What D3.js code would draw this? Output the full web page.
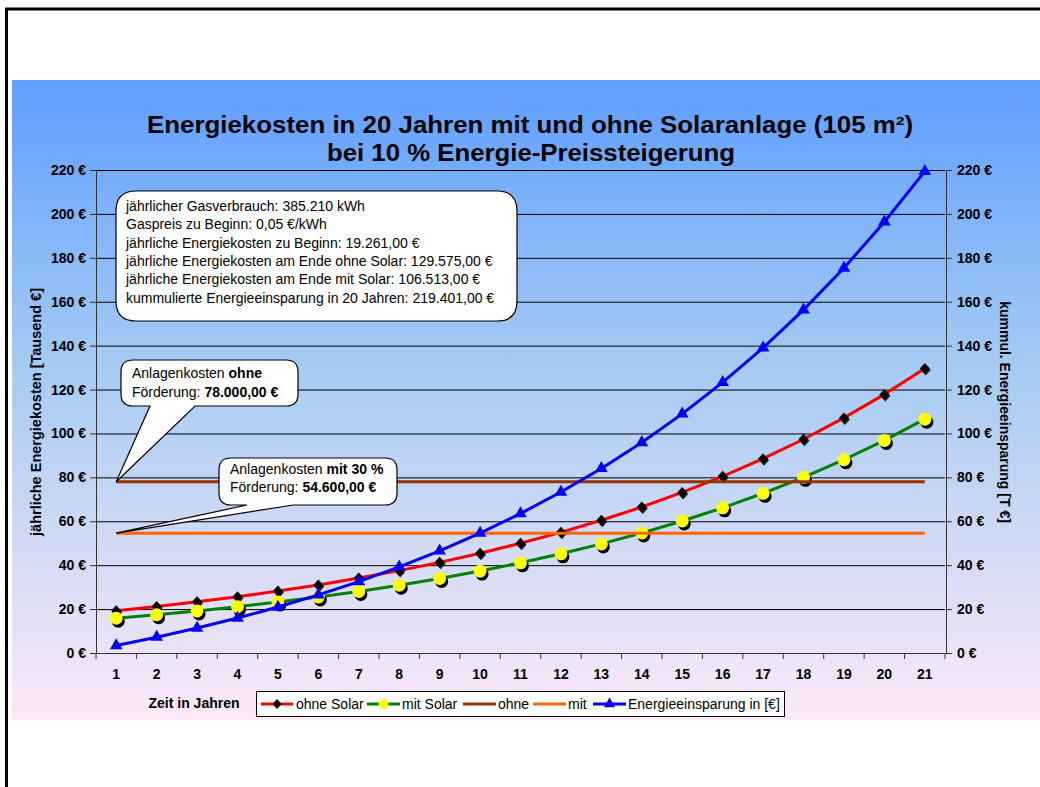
<!DOCTYPE html>
<html>
<head>
<meta charset="utf-8">
<script src="https://cdn.jsdelivr.net/npm/d3@7"></script>
<style>
  body { margin: 0; background: #fff; }
  text { font-family: "Liberation Sans", Arial, sans-serif; }
</style>
</head>
<body>
<script>
// Werte in Tausend Euro
var years = [1, 2, 3, 4, 5, 6, 7, 8, 9, 10, 11, 12, 13, 14, 15, 16, 17, 18, 19, 20, 21];
var ohneSolar = [19.26, 21.19, 23.31, 25.64, 28.20, 31.02, 34.12, 37.53, 41.29, 45.42, 49.96,
                 54.95, 60.45, 66.49, 73.14, 80.46, 88.50, 97.36, 107.09, 117.80, 129.58];
var mitSolar = [15.83, 17.42, 19.16, 21.08, 23.18, 25.50, 28.05, 30.85, 33.94, 37.33, 41.07,
                45.17, 49.69, 54.66, 60.12, 66.14, 72.75, 80.03, 88.03, 96.83, 106.51];
var anlageOhne = [78, 78, 78, 78, 78, 78, 78, 78, 78, 78, 78, 78, 78, 78, 78, 78, 78, 78, 78, 78, 78];
var anlageMit = [54.6, 54.6, 54.6, 54.6, 54.6, 54.6, 54.6, 54.6, 54.6, 54.6, 54.6,
                 54.6, 54.6, 54.6, 54.6, 54.6, 54.6, 54.6, 54.6, 54.6, 54.6];
var einsparung = [3.43, 7.20, 11.35, 15.91, 20.93, 26.45, 32.52, 39.20, 46.55, 54.63, 63.52,
                  73.31, 84.06, 95.90, 108.92, 123.24, 138.99, 156.31, 175.37, 196.34, 219.40];
var yTicks = [0, 20, 40, 60, 80, 100, 120, 140, 160, 180, 200, 220];
var infoLines = [
  "jährlicher Gasverbrauch: 385.210 kWh",
  "Gaspreis zu Beginn: 0,05 €/kWh",
  "jährliche Energiekosten zu Beginn: 19.261,00 €",
  "jährliche Energiekosten am Ende ohne Solar: 129.575,00 €",
  "jährliche Energiekosten am Ende mit Solar: 106.513,00 €",
  "kummulierte Energieeinsparung in 20 Jahren: 219.401,00 €"
];

var w = 1040;
var h = 787;
var svg = d3.select("body")
            .append("svg")
            .attr("width", w)
            .attr("height", h);

var defs = svg.append("defs");
var grad = defs.append("linearGradient")
    .attr("id", "bg")
    .attr("x1", 0).attr("y1", 0).attr("x2", 0).attr("y2", 1);
grad.append("stop").attr("offset", "0%").attr("stop-color", "#5e9eff");
grad.append("stop").attr("offset", "45%").attr("stop-color", "#a6cbf3");
grad.append("stop").attr("offset", "100%").attr("stop-color", "#fde9f8");

// Rahmen
svg.append("path")
   .attr("d", "M6.5,787 V9 H1040")
   .attr("fill", "none")
   .attr("stroke", "#000")
   .attr("stroke-width", 3);

svg.append("rect")
   .attr("x", 12).attr("y", 80)
   .attr("width", w - 12).attr("height", 640)
   .attr("fill", "url(#bg)");

var x = d3.scaleBand().domain(years).range([96, 945]);
var y = d3.scaleLinear().domain([0, 220]).range([653, 170]);
var y2 = d3.scaleLinear().domain([0, 220]).range([653, 170]);
var cx = function(d, i) { return x(years[i]) + x.bandwidth() / 2; };

// Titel
var title = svg.append("text")
   .attr("text-anchor", "middle")
   .attr("font-size", "23px")
   .attr("font-weight", "bold");
title.append("tspan").attr("x", 530).attr("y", 133)
   .attr("textLength", 766).attr("lengthAdjust", "spacingAndGlyphs")
   .text("Energiekosten in 20 Jahren mit und ohne Solaranlage (105 m²)");
title.append("tspan").attr("x", 531).attr("y", 161)
   .attr("textLength", 408).attr("lengthAdjust", "spacingAndGlyphs")
   .text("bei 10 % Energie-Preissteigerung");

// Gitter
svg.append("g")
   .attr("transform", "translate(96,0)")
   .call(d3.axisLeft(y).tickValues(yTicks).tickSize(-(945 - 96)).tickFormat(""))
   .call(function(g) { g.select(".domain").remove(); })
   .selectAll("line").attr("stroke", "#000");

// Achsen
var axL = svg.append("g")
   .attr("transform", "translate(96,0)")
   .call(d3.axisLeft(y).tickValues(yTicks).tickSize(6).tickPadding(4)
           .tickFormat(function(d) { return d + " €"; }));
var axR = svg.append("g")
   .attr("transform", "translate(946,0)")
   .call(d3.axisRight(y2).tickValues(yTicks).tickSize(6).tickPadding(5)
           .tickFormat(function(d) { return d + " €"; }));
var axB = svg.append("g")
   .attr("transform", "translate(0,653)")
   .call(d3.axisBottom(x).tickSize(0).tickPadding(16));
axB.selectAll(".tick")
   .append("line")
   .attr("x1", -x.bandwidth() / 2).attr("x2", -x.bandwidth() / 2)
   .attr("y1", 0).attr("y2", 6)
   .attr("stroke", "#333");
axB.append("line")
   .attr("x1", 945).attr("x2", 945).attr("y1", 0).attr("y2", 6)
   .attr("stroke", "#333");
[axL, axR, axB].forEach(function(g) {
  g.select(".domain").attr("stroke", "#333");
  g.selectAll(".tick line").attr("stroke", "#333");
  g.selectAll("text")
   .attr("font-family", "'Liberation Sans', Arial, sans-serif")
   .attr("font-size", "14px")
   .attr("font-weight", "bold")
   .attr("fill", "#000");
});

svg.append("text")
   .attr("transform", "translate(41,412) rotate(-90)")
   .attr("text-anchor", "middle")
   .attr("font-size", "14.5px")
   .attr("font-weight", "bold")
   .text("jährliche Energiekosten [Tausend €]");
svg.append("text")
   .attr("transform", "translate(1000,412) rotate(90)")
   .attr("text-anchor", "middle")
   .attr("font-size", "14px")
   .attr("font-weight", "bold")
   .text("kummul. Energieeinsparung [T €]");
svg.append("text")
   .attr("x", 194).attr("y", 708)
   .attr("text-anchor", "middle")
   .attr("font-size", "14px")
   .attr("font-weight", "bold")
   .text("Zeit in Jahren");

// Linien
function drawLine(data, scale, color) {
  svg.append("path")
     .datum(data)
     .attr("fill", "none")
     .attr("stroke", color)
     .attr("stroke-width", 3)
     .attr("d", d3.line().x(cx).y(function(d) { return scale(d); }));
}

var diamond = "M0,-5.5 L5,0 L0,5.5 L-5,0 Z";
var tri = d3.symbol().type(d3.symbolTriangle).size(70);

drawLine(ohneSolar, y, "#ff0000");
svg.selectAll(".dmS").data(ohneSolar).enter().append("path")
   .attr("d", diamond)
   .attr("transform", function(d, i) { return "translate(" + (cx(d, i) + 1) + "," + (y(d) + 1.5) + ")"; })
   .attr("fill", "#222");
svg.selectAll(".dm").data(ohneSolar).enter().append("path")
   .attr("d", diamond)
   .attr("transform", function(d, i) { return "translate(" + cx(d, i) + "," + y(d) + ")"; })
   .attr("fill", "#000");

drawLine(mitSolar, y, "#008000");
svg.selectAll(".ciS").data(mitSolar).enter().append("circle")
   .attr("cx", function(d, i) { return cx(d, i) + 2; })
   .attr("cy", function(d) { return y(d) + 3; })
   .attr("r", 6.5)
   .attr("fill", "#000");
svg.selectAll(".ci").data(mitSolar).enter().append("circle")
   .attr("cx", cx)
   .attr("cy", function(d) { return y(d); })
   .attr("r", 6.5)
   .attr("fill", "#ffff00");

drawLine(anlageOhne, y, "#993300");
drawLine(anlageMit, y, "#ff6600");

drawLine(einsparung, y2, "#0000ff");
svg.selectAll(".tr").data(einsparung).enter().append("path")
   .attr("d", tri)
   .attr("transform", function(d, i) { return "translate(" + cx(d, i) + "," + y2(d) + ")"; })
   .attr("fill", "#0000ff");

// Legenden
function callout(x0, y0, x1, y1, r, tail) {
  var p = "M" + (x0 + r) + "," + y0 + " H" + (x1 - r) +
          " Q" + x1 + "," + y0 + " " + x1 + "," + (y0 + r) +
          " V" + (y1 - r) + " Q" + x1 + "," + y1 + " " + (x1 - r) + "," + y1;
  if (tail) {
    p += " H" + tail[1] + " L" + tail[2] + "," + tail[3] + " L" + tail[0] + "," + y1;
  }
  p += " H" + (x0 + r) + " Q" + x0 + "," + y1 + " " + x0 + "," + (y1 - r) +
       " V" + (y0 + r) + " Q" + x0 + "," + y0 + " " + (x0 + r) + "," + y0 + " Z";
  return p;
}

svg.append("path")
   .attr("d", callout(116, 191, 517, 321, 20))
   .attr("fill", "#fff").attr("stroke", "#000").attr("stroke-width", 1.2);
svg.append("text")
   .attr("font-size", "14px")
   .selectAll("tspan")
   .data(infoLines)
   .enter()
   .append("tspan")
   .attr("x", 126)
   .attr("y", function(d, i) { return 211 + i * 18.3; })
   .text(function(d) { return d; });

var tip0 = x.bandwidth() / 2 + x(1);
svg.append("path")
   .attr("d", callout(121, 360, 298, 406, 12, [150, 195, tip0, y(anlageOhne[0])]))
   .attr("fill", "#fff").attr("stroke", "#000").attr("stroke-width", 1.2);
var t2 = svg.append("text").attr("font-size", "14px");
var l1 = t2.append("tspan").attr("x", 132).attr("y", 378);
l1.append("tspan").text("Anlagenkosten ");
l1.append("tspan").attr("font-weight", "bold").text("ohne");
var l2 = t2.append("tspan").attr("x", 132).attr("y", 397);
l2.append("tspan").text("Förderung: ");
l2.append("tspan").attr("font-weight", "bold").text("78.000,00 €");

svg.append("path")
   .attr("d", callout(219, 458, 397, 505, 12, [247, 293, tip0, y(anlageMit[0])]))
   .attr("fill", "#fff").attr("stroke", "#000").attr("stroke-width", 1.2);
var t3 = svg.append("text").attr("font-size", "14px");
var m1 = t3.append("tspan").attr("x", 230).attr("y", 474);
m1.append("tspan").text("Anlagenkosten ");
m1.append("tspan").attr("font-weight", "bold").text("mit 30 %");
var m2 = t3.append("tspan").attr("x", 230).attr("y", 492);
m2.append("tspan").text("Förderung: ");
m2.append("tspan").attr("font-weight", "bold").text("54.600,00 €");

// Legende unten
var legend = [
  { name: "ohne Solar", color: "#ff0000", x0: 261, x1: 293, mark: "diamond", tx: 296 },
  { name: "mit Solar", color: "#008000", x0: 367, x1: 400, mark: "circle", tx: 402 },
  { name: "ohne", color: "#993300", x0: 463, x1: 496, mark: null, tx: 498 },
  { name: "mit", color: "#ff6600", x0: 533, x1: 566, mark: null, tx: 568 },
  { name: "Energieeinsparung in [€]", color: "#0000ff", x0: 593, x1: 626, mark: "tri", tx: 628 }
];
svg.append("rect")
   .attr("x", 256.5).attr("y", 691.5)
   .attr("width", 528).attr("height", 25)
   .attr("fill", "#fff").attr("stroke", "#000");
var lg = svg.selectAll(".lg").data(legend).enter().append("g");
lg.append("line")
  .attr("x1", function(d) { return d.x0; })
  .attr("x2", function(d) { return d.x1; })
  .attr("y1", 704).attr("y2", 704)
  .attr("stroke", function(d) { return d.color; })
  .attr("stroke-width", 3);
lg.filter(function(d) { return d.mark === "diamond"; }).append("path")
  .attr("d", "M0,-5 L4.5,0 L0,5 L-4.5,0 Z")
  .attr("transform", function(d) { return "translate(" + (d.x0 + d.x1) / 2 + ",704)"; })
  .attr("fill", "#000");
lg.filter(function(d) { return d.mark === "circle"; }).append("circle")
  .attr("cx", function(d) { return (d.x0 + d.x1) / 2; })
  .attr("cy", 704).attr("r", 5)
  .attr("fill", "#ffff00");
lg.filter(function(d) { return d.mark === "tri"; }).append("path")
  .attr("d", d3.symbol().type(d3.symbolTriangle).size(55))
  .attr("transform", function(d) { return "translate(" + (d.x0 + d.x1) / 2 + ",704)"; })
  .attr("fill", "#0000ff");
lg.append("text")
  .attr("x", function(d) { return d.tx; })
  .attr("y", 709)
  .attr("font-size", "14px")
  .text(function(d) { return d.name; });
</script>
</body>
</html>
